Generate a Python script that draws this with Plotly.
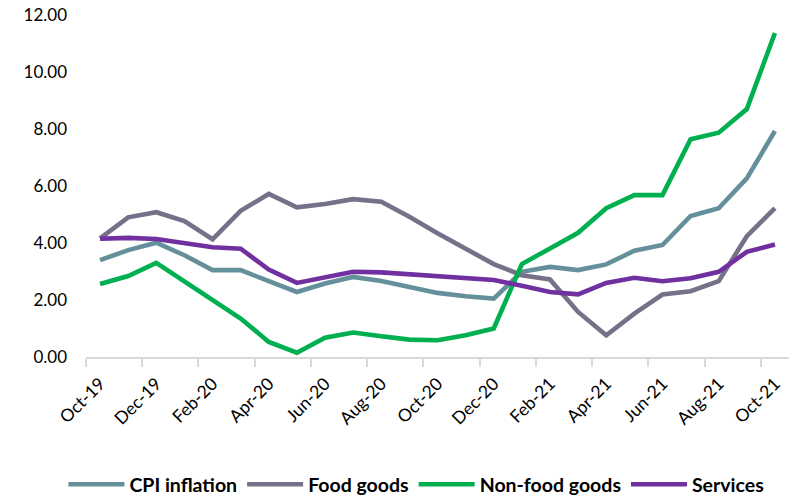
import plotly.graph_objects as go

months = ["Oct-19", "Nov-19", "Dec-19", "Jan-20", "Feb-20", "Mar-20", "Apr-20", "May-20",
          "Jun-20", "Jul-20", "Aug-20", "Sep-20", "Oct-20", "Nov-20", "Dec-20", "Jan-21",
          "Feb-21", "Mar-21", "Apr-21", "May-21", "Jun-21", "Jul-21", "Aug-21", "Sep-21", "Oct-21"]

cpi_inflation = [3.40, 3.75, 4.01, 3.57, 3.05, 3.05, 2.66, 2.28, 2.58, 2.81, 2.67, 2.46, 2.25,
                 2.13, 2.05, 2.99, 3.16, 3.05, 3.25, 3.73, 3.93, 4.95, 5.22, 6.27, 7.93]
food_goods = [4.16, 4.90, 5.08, 4.77, 4.13, 5.13, 5.72, 5.25, 5.37, 5.54, 5.45, 4.92, 4.34,
              3.81, 3.26, 2.87, 2.72, 1.58, 0.76, 1.52, 2.19, 2.31, 2.66, 4.24, 5.22]
non_food_goods = [2.56, 2.84, 3.30, 2.64, 1.99, 1.35, 0.53, 0.15, 0.68, 0.86, 0.73, 0.61, 0.59,
                  0.76, 1.00, 3.26, 3.81, 4.36, 5.22, 5.68, 5.68, 7.64, 7.87, 8.70, 11.37]
services = [4.15, 4.18, 4.14, 3.99, 3.85, 3.80, 3.07, 2.60, 2.79, 2.99, 2.97, 2.91, 2.84,
            2.78, 2.70, 2.50, 2.28, 2.20, 2.60, 2.78, 2.66, 2.76, 2.99, 3.69, 3.95]

series = [
    ("CPI inflation", cpi_inflation, "#64909C"),
    ("Food goods", food_goods, "#767189"),
    ("Non-food goods", non_food_goods, "#00B050"),
    ("Services", services, "#7030A0"),
]

x_idx = list(range(len(months)))

fig = go.Figure()
for name, vals, color in series:
    fig.add_trace(go.Scatter(
        x=x_idx, y=vals, name=name, mode="lines",
        line=dict(color=color, width=4.6),
    ))

FONT = "Lato"

fig.update_layout(
    width=789, height=497,
    margin=dict(l=86, r=0, t=15, b=140, autoexpand=False),
    plot_bgcolor="white", paper_bgcolor="white",
    font=dict(family=FONT, color="#000000", size=16),
    showlegend=True,
    legend=dict(
        orientation="h", x=0.47, xanchor="center",
        yref="container", y=0.025, yanchor="middle",
        font=dict(family=FONT, size=19.5, color="#000000", weight="bold"),
        itemwidth=56, tracegroupgap=0,
    ),
)

fig.update_xaxes(
    range=[-0.5, 24.5],
    tickvals=x_idx[::2], ticktext=months[::2],
    tickangle=-45, ticks="",
    tickfont=dict(family=FONT, size=17.5),
    ticklabelstandoff=8, automargin=False,
    showgrid=False, zeroline=False,
    showline=True, linecolor="#D9D9D9", linewidth=1.5,
    minor=dict(tick0=-0.5, dtick=2, ticks="outside", ticklen=8, tickcolor="#D9D9D9", tickwidth=1.5),
)

fig.update_yaxes(
    range=[0, 12], tickvals=[0, 2, 4, 6, 8, 10, 12], tickformat=".2f",
    tickfont=dict(family=FONT, size=17),
    showgrid=False, zeroline=False, showline=False, automargin=False,
    ticks="", ticklabelstandoff=18,
)

fig.write_html("out.html")
